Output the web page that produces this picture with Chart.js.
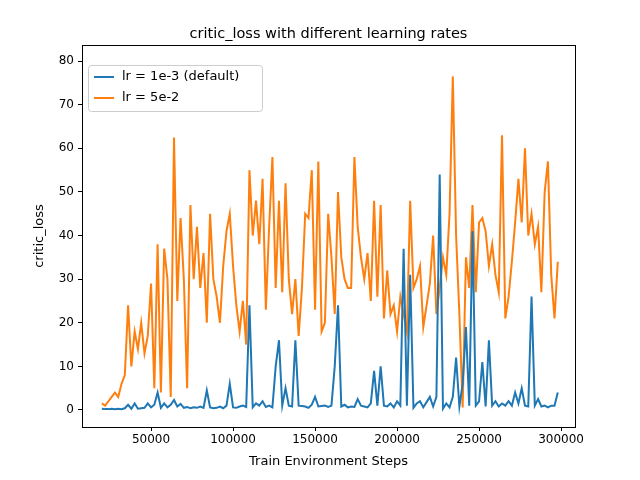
<!DOCTYPE html>
<html>
<head>
<meta charset="utf-8">
<script src="https://cdn.jsdelivr.net/npm/chart.js@4"></script>
<style>
  html, body { margin: 0; padding: 0; background: #fff; }
  #wrap { width: 640px; height: 480px; }
</style>
</head>
<body>
<div id="wrap"><canvas id="c" width="640" height="480"></canvas></div>
<script>
// steps: 20000 .. 298000, every 2000
const steps = Array.from({length: 140}, (_, i) => 20000 + i * 2000);

const lossDefault = [
  0.3,0.2,0.2,0.3,0.2,0.3,0.2,0.4,1.2,0.3, 1.5,0.3,0.4,0.5,1.5,0.6,1.2,4,0.5,1.5,
  0.6,1.2,2.3,0.8,1.4,0.5,0.7,0.4,0.6,0.5, 0.8,0.5,4.5,0.6,0.4,0.5,0.8,0.4,1,6,
  0.6,0.5,0.8,1,0.7,24,0.6,1.5,1,2, 0.7,1,0.6,10,16,1,5,1,0.8,16,
  1,0.9,0.8,0.5,1.2,3,0.8,0.9,1,0.7, 1,10,24,0.8,1.2,0.6,0.8,0.7,2.5,1,
  0.8,0.6,1.5,9,1,10,1,0.8,1.5,0.6, 2,1,37,1,31,0.5,1.5,2,0.6,1.8,
  3,0.8,3,54,0.3,1.5,0.6,3,12,0.8, 6,19,1,41,1,2,11,0.8,16,1,
  2,0.8,1.5,1,2,1,4,1.5,5,1, 0.8,26,1,2.5,0.8,1,0.6,1,1,4
];

const lossHighLr = [
  1.5,1,2,3,4,3,6,8,24,10, 18,14,20,13,17,29,5,38,4,37,
  30,3,62.5,25,44,30,5,47,30,42, 28,36,20,45,30,26,20,33,41,45,
  33,24,18,25,15,55,40,48,38,53, 23,42,58,28,48,27,52,30,22,30,
  17,28,45,44,55,23,57,18,20,45, 35,22,50,35,30,28,28,58,42,35,
  30,36,25,48,26,47,21,32,22,24, 18,26,22,18,48,28,30,33,19,24,
  29,40,22,28,35,31,45,76.5,40,22, 0.6,35,28,47,27,43,44,41,33,38,
  31,27,63,21,26,34,43,53,43,60, 40,45,38,42,27,50,57,31,21,34
];

const xTicks = [50000, 100000, 150000, 200000, 250000, 300000];
const yTicks = [0, 10, 20, 30, 40, 50, 60, 70, 80];

const seriesLabels = ['lr = 1e-3 (default)', 'lr = 5e-2'];
const colors = ['#1f77b4', '#ff7f0e'];

const toPoints = vals => steps.map((s, i) => ({x: s, y: vals[i]}));

const font = "'DejaVu Sans', sans-serif";

// frame, title, axis titles and legend drawn like matplotlib
const decor = {
  id: 'decor',
  afterDraw(chart) {
    const {ctx, chartArea: a} = chart;
    ctx.save();
    ctx.strokeStyle = '#000';
    ctx.lineWidth = 1;
    ctx.strokeRect(a.left + 0.5, a.top + 0.5, a.right - a.left, a.bottom - a.top);
    ctx.fillStyle = '#000';
    ctx.font = '14.5px ' + font;
    ctx.textAlign = 'center';
    ctx.textBaseline = 'alphabetic';
    ctx.fillText('critic_loss with different learning rates', (a.left + a.right) / 2, a.top - 7);
    ctx.font = '13px ' + font;
    ctx.textBaseline = 'middle';
    ctx.fillText('Train Environment Steps', (a.left + a.right) / 2, 462);
    ctx.save();
    ctx.translate(40, (a.top + a.bottom) / 2);
    ctx.rotate(-Math.PI / 2);
    ctx.fillText('critic_loss', 0, 0);
    ctx.restore();
    // legend
    const lx = a.left + 6, ly = a.top + 20;
    ctx.strokeStyle = '#ccc';
    ctx.fillStyle = 'rgba(255,255,255,0.8)';
    ctx.beginPath();
    ctx.roundRect(lx + 0.5, ly + 0.5, 174, 46, 3);
    ctx.fill();
    ctx.stroke();
    ctx.textAlign = 'left';
    seriesLabels.forEach((t, i) => {
      const yy = ly + 12 + i * 21;
      ctx.strokeStyle = colors[i];
      ctx.lineWidth = 2;
      ctx.beginPath();
      ctx.moveTo(lx + 6, yy);
      ctx.lineTo(lx + 26, yy);
      ctx.stroke();
      ctx.fillStyle = '#000';
      ctx.fillText(t, lx + 34, yy);
    });
    ctx.restore();
  }
};

const axisGrid = { display: true, drawOnChartArea: false, drawTicks: true, tickLength: 4, tickColor: '#000' };

new Chart(document.getElementById('c'), {
  type: 'line',
  data: {
    datasets: [
      { label: seriesLabels[0], data: toPoints(lossDefault), borderColor: colors[0], borderWidth: 2, pointRadius: 0, tension: 0 },
      { label: seriesLabels[1], data: toPoints(lossHighLr), borderColor: colors[1], borderWidth: 2, pointRadius: 0, tension: 0 }
    ]
  },
  options: {
    responsive: false,
    animation: false,
    layout: { padding: { top: 45, right: 65, left: 0, bottom: 0 } },
    plugins: { legend: { display: false }, tooltip: { enabled: false } },
    scales: {
      x: {
        type: 'linear', min: 7900, max: 308500,
        grid: axisGrid,
        border: { display: false },
        afterBuildTicks: ax => { ax.ticks = xTicks.map(v => ({value: v})); },
        afterFit: ax => { ax.height = 53; },
        ticks: { color: '#000', font: { family: font, size: 12 }, maxRotation: 0, padding: 2, callback: v => String(v) }
      },
      y: {
        min: -3.9, max: 83.7,
        grid: axisGrid,
        border: { display: false },
        afterBuildTicks: ax => { ax.ticks = yTicks.map(v => ({value: v})); },
        afterFit: ax => { ax.width = 82; },
        ticks: { color: '#000', font: { family: font, size: 12 }, padding: 4 }
      }
    }
  },
  plugins: [decor]
});
</script>
</body>
</html>
